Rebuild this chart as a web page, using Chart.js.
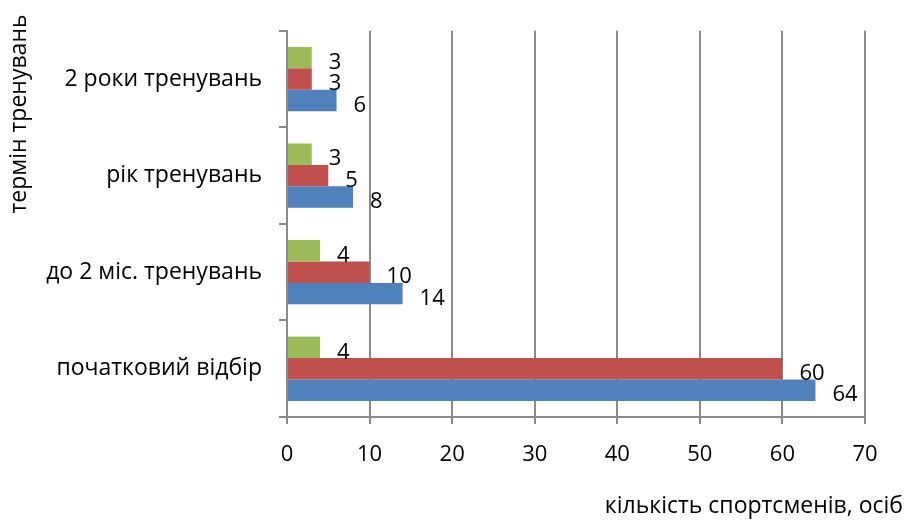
<!DOCTYPE html>
<html>
<head>
<meta charset="utf-8">
<script src="https://cdn.jsdelivr.net/npm/chart.js@4.4.0/dist/chart.umd.min.js"></script>
<style>
  html, body { margin: 0; padding: 0; background: #fff; }
</style>
</head>
<body>
<canvas id="chart" width="906" height="521"></canvas>
<script>
const categories = ['початковий відбір', 'до 2 міс. тренувань', 'рік тренувань', '2 роки тренувань'];
const seriesBlue = [64, 14, 8, 6];
const seriesRed = [60, 10, 5, 3];
const seriesGreen = [4, 4, 3, 3];
const xTicks = [0, 10, 20, 30, 40, 50, 60, 70];

const FONT = '"Open Sans", "Noto Sans", sans-serif';
const gridColor = '#8a8a8a';

// value labels after each bar
const valueLabels = {
    id: 'valueLabels',
    afterDatasetsDraw(chart) {
        const ctx = chart.ctx;
        ctx.save();
        ctx.font = '22px ' + FONT;
        ctx.fillStyle = '#000';
        ctx.textAlign = 'left';
        ctx.textBaseline = 'middle';
        chart.data.datasets.forEach((ds, i) => {
            chart.getDatasetMeta(i).data.forEach((bar, j) => {
                ctx.fillText(String(ds.data[j]), bar.x + 17, bar.y + 5);
            });
        });
        ctx.restore();
    }
};

// axis titles
const axisTitles = {
    id: 'axisTitles',
    afterDraw(chart) {
        const ctx = chart.ctx;
        ctx.save();
        ctx.font = '23px ' + FONT;
        ctx.fillStyle = '#000';
        ctx.textBaseline = 'middle';
        ctx.textAlign = 'right';
        ctx.fillText('кількість спортсменів, осіб', 903, 506);
        ctx.translate(19, 114);
        ctx.rotate(-Math.PI / 2);
        ctx.textAlign = 'center';
        ctx.fillText('термін тренувань', 0, 0);
        ctx.restore();
    }
};

const ctx = document.getElementById('chart');
const chart = new Chart(ctx, {
    type: 'bar',
    data: {
        labels: categories,
        datasets: [
            { label: 'ряд 3', data: seriesGreen, backgroundColor: '#9BBB59' },
            { label: 'ряд 2', data: seriesRed, backgroundColor: '#C0504D' },
            { label: 'ряд 1', data: seriesBlue, backgroundColor: '#4F81BD' }
        ]
    },
    options: {
        indexAxis: 'y',
        responsive: false,
        animation: false,
        layout: { padding: { top: 14, right: 41, left: 0, bottom: 0 } },
        datasets: {
            bar: { categoryPercentage: 0.667, barPercentage: 1 }
        },
        plugins: {
            legend: { display: false },
            tooltip: { enabled: false }
        },
        scales: {
            x: {
                min: 0,
                max: 70,
                afterBuildTicks: s => { s.ticks = xTicks.map(v => ({ value: v })); },
                afterFit: s => { s.height = 104; },
                grid: { color: gridColor, lineWidth: 2, tickLength: 7 },
                border: { color: gridColor, width: 2 },
                ticks: {
                    color: '#000',
                    padding: 18,
                    font: { family: FONT, size: 22 }
                }
            },
            y: {
                reverse: true,
                afterFit: s => { s.width = 287; },
                grid: {
                    drawOnChartArea: false,
                    drawTicks: true,
                    tickLength: 8,
                    color: gridColor,
                    lineWidth: 2
                },
                border: { color: gridColor, width: 2 },
                ticks: {
                    color: '#000',
                    padding: 17,
                    font: { family: FONT, size: 23 }
                }
            }
        }
    },
    plugins: [valueLabels, axisTitles]
});
</script>
</body>
</html>
